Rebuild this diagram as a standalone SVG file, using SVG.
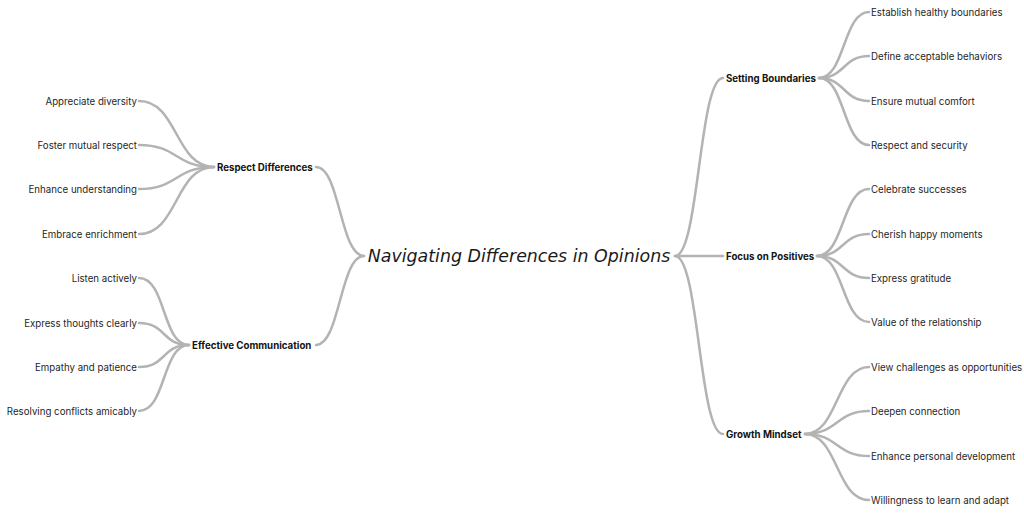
<svg xmlns="http://www.w3.org/2000/svg" width="1024" height="525" viewBox="0 0 1024 525">
<style>
.c{fill:none;stroke:#b3b3b3;stroke-width:2.5;stroke-linecap:round}
.l{font-family:Inter,"Liberation Sans",sans-serif;font-size:9.7px;fill:#1f1f1f;dominant-baseline:central}
.b{font-family:Inter,"Liberation Sans",sans-serif;font-size:9.7px;font-weight:bold;fill:#141414;dominant-baseline:central}
.r{text-anchor:end}
.t{font-family:"DejaVu Sans",sans-serif;font-style:oblique;font-size:17.4px;fill:#1a1a1a;dominant-baseline:central}
</style>
<rect width="1024" height="525" fill="#ffffff"/>
<g id="connectors">
<path class="c" d="M364 256 C340 256 340 167 316 167"/>
<path class="c" d="M364 256 C340 256 340 345 316 345"/>
<path class="c" d="M675 256 C699 256 699 78 723 78"/>
<path class="c" d="M675 256 C699 256 699 256 723 256"/>
<path class="c" d="M675 256 C699 256 699 434 723 434"/>
<path class="c" d="M214 167 C175 167 178 101 139 101"/>
<path class="c" d="M214 167 C175 167 178 145 139 145"/>
<path class="c" d="M214 167 C175 167 178 189 139 189"/>
<path class="c" d="M214 167 C175 167 178 234 139 234"/>
<path class="c" d="M189 345 C162 345 166 278 139 278"/>
<path class="c" d="M189 345 C162 345 166 323 139 323"/>
<path class="c" d="M189 345 C162 345 166 367 139 367"/>
<path class="c" d="M189 345 C162 345 166 411 139 411"/>
<path class="c" d="M819 78 C845 78 843 12 869 12"/>
<path class="c" d="M819 78 C845 78 843 56 869 56"/>
<path class="c" d="M819 78 C845 78 843 101 869 101"/>
<path class="c" d="M819 78 C845 78 843 145 869 145"/>
<path class="c" d="M817 256 C844 256 842 189 869 189"/>
<path class="c" d="M817 256 C844 256 842 234 869 234"/>
<path class="c" d="M817 256 C844 256 842 278 869 278"/>
<path class="c" d="M817 256 C844 256 842 322 869 322"/>
<path class="c" d="M805 434 C838 434 836 367 869 367"/>
<path class="c" d="M805 434 C838 434 836 411 869 411"/>
<path class="c" d="M805 434 C838 434 836 456 869 456"/>
<path class="c" d="M805 434 C838 434 836 500 869 500"/>
</g>
<g id="root"><text class="t" x="519" y="256" text-anchor="middle">Navigating Differences in Opinions</text></g>
<g id="respect"><text class="b" x="217" y="167">Respect Differences</text></g>
<g id="communication"><text class="b" x="192" y="345">Effective Communication</text></g>
<g id="boundaries"><text class="b" x="726" y="78">Setting Boundaries</text></g>
<g id="positives"><text class="b" x="726" y="256">Focus on Positives</text></g>
<g id="growth"><text class="b" x="726" y="434">Growth Mindset</text></g>
<g id="l1"><text class="l r" x="137" y="101">Appreciate diversity</text></g>
<g id="l2"><text class="l r" x="137" y="145">Foster mutual respect</text></g>
<g id="l3"><text class="l r" x="137" y="189">Enhance understanding</text></g>
<g id="l4"><text class="l r" x="137" y="234">Embrace enrichment</text></g>
<g id="l5"><text class="l r" x="137" y="278">Listen actively</text></g>
<g id="l6"><text class="l r" x="137" y="323">Express thoughts clearly</text></g>
<g id="l7"><text class="l r" x="137" y="367">Empathy and patience</text></g>
<g id="l8"><text class="l r" x="137" y="411">Resolving conflicts amicably</text></g>
<g id="r1"><text class="l" x="871" y="12">Establish healthy boundaries</text></g>
<g id="r2"><text class="l" x="871" y="56">Define acceptable behaviors</text></g>
<g id="r3"><text class="l" x="871" y="101">Ensure mutual comfort</text></g>
<g id="r4"><text class="l" x="871" y="145">Respect and security</text></g>
<g id="r5"><text class="l" x="871" y="189">Celebrate successes</text></g>
<g id="r6"><text class="l" x="871" y="234">Cherish happy moments</text></g>
<g id="r7"><text class="l" x="871" y="278">Express gratitude</text></g>
<g id="r8"><text class="l" x="871" y="322">Value of the relationship</text></g>
<g id="r9"><text class="l" x="871" y="367">View challenges as opportunities</text></g>
<g id="r10"><text class="l" x="871" y="411">Deepen connection</text></g>
<g id="r11"><text class="l" x="871" y="456">Enhance personal development</text></g>
<g id="r12"><text class="l" x="871" y="500">Willingness to learn and adapt</text></g>
</svg>
